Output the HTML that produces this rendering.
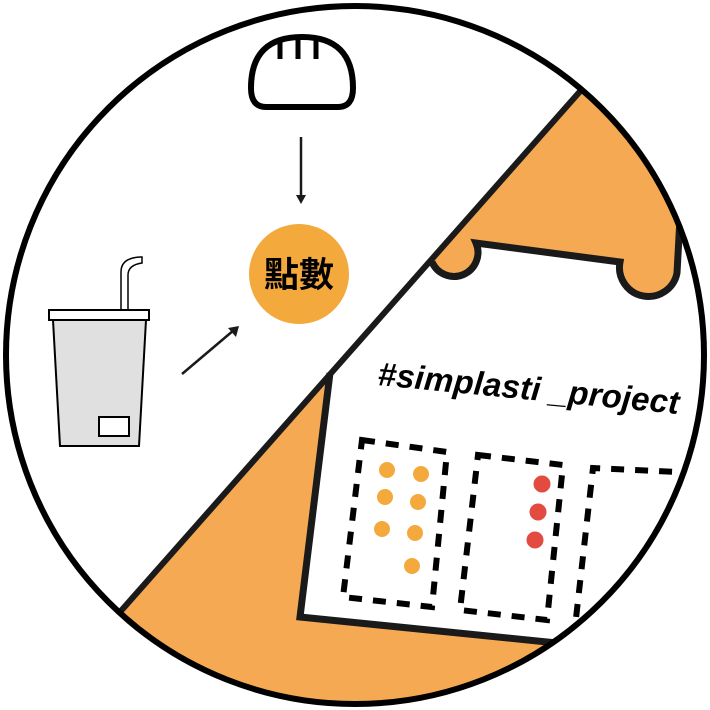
<!DOCTYPE html>
<html><head><meta charset="utf-8"><style>
html,body{margin:0;padding:0;background:#fff;width:710px;height:710px;overflow:hidden;}
svg{display:block;}
</style></head><body>
<svg width="710" height="710" viewBox="0 0 710 710" xmlns="http://www.w3.org/2000/svg">
<defs>
<clipPath id="c"><circle cx="355" cy="355" r="349"/></clipPath>
</defs>
<g clip-path="url(#c)">
  <polygon points="120,612 583,88 760,88 760,760 0,760" fill="#f4a952"/>
  <path d="M330,373 L432,262 A21,21 0 0 0 476,243 L620,262 A28,28 0 0 0 677,273 L680,210 L760,160 L760,700 L557,643 L300,617 Z" fill="#fff"/>
  <path d="M330,373 L300,617 L557,643" fill="none" stroke="#1a1a1a" stroke-width="7" stroke-linejoin="miter"/>
  <path d="M432,262 A21,21 0 0 0 476,243 L620,262 A28,28 0 0 0 677,273 L681,200" fill="none" stroke="#1a1a1a" stroke-width="7"/>
  <line x1="120" y1="612" x2="583" y2="88" stroke="#1a1a1a" stroke-width="6"/>
  <g fill="none" stroke="#000" stroke-width="6" stroke-dasharray="13,11">
    <polygon points="362,440 447,452 432,607 343,597"/>
    <polygon points="478,455 563,465 547,620 460,610"/>
    <polyline points="720,474 593,468 575,627"/>
  </g>
  <g fill="#f4a93c">
    <circle cx="387" cy="470" r="8"/><circle cx="421" cy="474" r="8"/>
    <circle cx="385" cy="497" r="8"/><circle cx="418" cy="502" r="8"/>
    <circle cx="382" cy="529" r="8"/><circle cx="415" cy="533" r="8"/>
    <circle cx="412" cy="566" r="8"/>
  </g>
  <g fill="#e34b40">
    <circle cx="542" cy="484" r="8.5"/><circle cx="538" cy="512" r="8.5"/><circle cx="535" cy="540" r="8.5"/>
  </g>
  <text x="377" y="385" transform="rotate(5.5 377 385)" font-family="Liberation Sans, sans-serif" font-weight="bold" font-style="italic" font-size="33" letter-spacing="0.2" fill="#000">#simplasti _project</text>
</g>
<circle cx="355" cy="355" r="349" fill="none" stroke="#000" stroke-width="6"/>
<path d="M266,107 Q251,107 251,88 Q251,37 302,37 Q353,37 353,88 Q353,107 338,107 Z" fill="none" stroke="#000" stroke-width="6" stroke-linejoin="round"/>
<g stroke="#000" stroke-width="5"><line x1="280" y1="38" x2="280" y2="59"/><line x1="298" y1="36" x2="298" y2="59"/><line x1="316" y1="38" x2="316" y2="59"/></g>
<line x1="301" y1="137" x2="301" y2="196" stroke="#1a1a1a" stroke-width="2.5"/>
<polygon points="296,195 306,195 301,204" fill="#1a1a1a"/>
<circle cx="299" cy="274" r="50" fill="#f4a93c"/>
<text x="299" y="287" text-anchor="middle" font-family="Liberation Sans, 'Noto Sans CJK TC', sans-serif" font-weight="bold" font-size="35" fill="#000">點數</text>
<line x1="182" y1="374" x2="234" y2="330" stroke="#1a1a1a" stroke-width="2.5"/>
<polygon points="239,326 236,337 228,328" fill="#1a1a1a"/>
<path d="M121,310 L121,272 Q121,258 140,257 L142,257 L142,263 Q128,265 128,275 L128,310 Z" fill="#fff" stroke="#000" stroke-width="1.5"/>
<path d="M53,320 L146,320 L139,446 L60,446 Z" fill="#e0e0e0" stroke="#000" stroke-width="2"/>
<rect x="49" y="310" width="100" height="10" fill="#fff" stroke="#000" stroke-width="2"/>
<rect x="99" y="417" width="30" height="19" fill="#fff" stroke="#000" stroke-width="2"/>
</svg>
</body></html>
